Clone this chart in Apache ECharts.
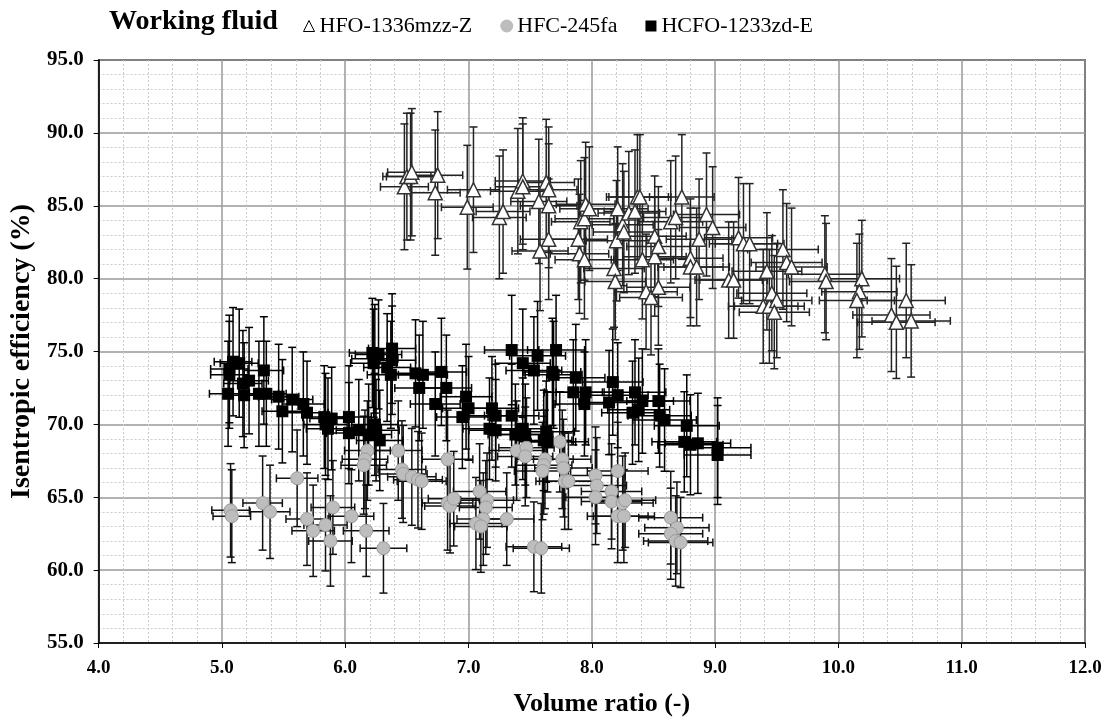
<!DOCTYPE html>
<html><head><meta charset="utf-8">
<script src="https://cdn.jsdelivr.net/npm/echarts@6/dist/echarts.min.js"></script>
<style>html,body{margin:0;padding:0;background:#fff}#c{width:1112px;height:722px}</style>
</head><body><div id="c"></div>
<script>
// ---- data ----
const seriesNames = ['HFO-1336mzz-Z', 'HFC-245fa', 'HCFO-1233zd-E'];
const xTicks = [4, 5, 6, 7, 8, 9, 10, 11, 12];
const yTicks = [55, 60, 65, 70, 75, 80, 85, 90, 95];
// relative measurement uncertainty used for the error bars
const xRelUnc = 0.03;
const yRelUnc = 0.05;

const hfoX = [6.48,6.50,6.53,6.54,6.73,6.75,6.99,7.04,7.25,7.28,7.40,7.44,7.44,7.57,7.58,7.63,7.65,7.65,7.65,7.89,7.90,7.91,7.94,7.95,7.94,7.98,8.18,8.19,8.20,8.21,8.25,8.26,8.30,8.35,8.37,8.39,8.41,8.44,8.48,8.51,8.51,8.54,8.54,8.64,8.68,8.73,8.80,8.80,8.85,8.87,8.93,8.98,9.11,9.15,9.19,9.23,9.28,9.42,9.39,9.44,9.46,9.50,9.48,9.55,9.58,9.62,9.89,9.90,10.19,10.17,10.15,10.43,10.47,10.55,10.59];
const hfoY = [86.3,87.0,87.0,87.3,85.9,87.1,84.9,86.1,84.2,84.6,86.0,86.7,86.3,85.3,81.9,86.6,85.0,86.1,82.7,82.7,81.7,83.9,84.1,85.1,81.3,84.8,80.7,79.8,82.6,84.8,83.7,83.2,84.5,84.6,85.6,85.6,81.3,79.1,78.7,82.9,81.5,82.2,79.4,83.9,84.2,85.6,81.4,80.8,80.8,82.7,84.4,83.5,79.9,79.9,82.8,82.4,82.4,80.5,78.1,78.1,79.0,78.5,77.7,82.0,81.1,80.8,80.3,79.8,80.0,79.1,78.5,77.5,77.0,78.5,77.1];

const hfcX = [5.07,5.08,5.33,5.39,5.61,5.69,5.74,5.84,5.88,5.90,6.05,6.17,6.31,6.18,6.16,6.15,6.43,6.46,6.47,6.54,6.59,6.62,6.83,6.83,6.85,6.88,7.09,7.15,7.14,7.12,7.06,7.10,7.31,7.39,7.47,7.46,7.62,7.61,7.60,7.74,7.76,7.77,7.78,7.81,7.53,7.59,8.03,8.04,8.03,8.21,8.16,8.16,8.25,8.27,8.21,8.26,8.64,8.69,8.64,8.68,8.72];
const hfcY = [64.1,63.7,64.6,64.0,66.3,63.5,62.7,63.1,62.0,64.3,63.7,62.7,61.5,68.2,67.6,67.2,68.2,66.9,66.6,66.4,66.2,66.1,67.6,64.6,64.4,64.9,65.4,64.8,64.3,63.5,63.2,63.0,63.5,68.2,68.4,67.8,67.6,67.2,66.8,68.8,67.6,67.0,66.1,66.1,61.6,61.5,66.5,65.8,65.0,66.8,65.4,64.7,64.6,64.8,63.7,63.7,63.6,62.9,62.5,62.0,61.9];

const hcfoX = [5.09,5.06,5.06,5.14,5.05,5.17,5.22,5.18,5.34,5.30,5.36,5.46,5.49,5.57,5.66,5.69,5.83,5.84,5.86,5.89,6.03,6.03,6.11,6.19,6.24,6.25,6.28,6.22,6.24,6.27,6.23,6.34,6.38,6.38,6.37,6.57,6.63,6.60,6.78,6.82,6.73,6.98,7.00,6.95,7.19,7.17,7.22,7.35,7.44,7.56,7.71,7.53,7.68,7.69,7.87,7.85,7.95,7.94,8.17,8.21,8.14,8.35,8.41,8.54,8.33,8.38,8.55,8.59,8.77,7.22,7.35,7.38,7.44,7.46,7.63,7.61,7.64,8.75,8.80,8.86,9.02,9.02];
const hcfoY = [74.3,73.8,73.4,74.2,72.1,72.8,73.0,72.0,73.7,72.1,72.1,71.9,70.9,71.7,71.4,70.8,70.5,70.0,69.7,70.4,70.5,69.4,69.6,69.3,70.0,69.6,68.9,74.9,74.5,74.8,74.2,73.9,75.2,74.4,73.4,73.5,73.4,72.5,73.6,72.5,71.4,71.9,71.1,70.5,71.1,69.7,69.6,75.1,74.2,74.7,75.1,73.7,73.6,73.4,73.2,72.2,72.2,71.4,72.9,72.0,71.5,72.2,71.6,71.6,70.8,71.0,70.6,70.3,69.9,70.6,70.6,69.3,69.7,69.3,69.5,68.9,68.8,68.8,68.6,68.7,68.4,67.9];

// ---- build ----
const pairs = (xs, ys) => xs.map((x, i) => [x, ys[i]]);
const FONT = 'Liberation Serif';

function errRender(color) {
  return function (params, api) {
    const x = api.value(0), y = api.value(1);
    const dx = x * xRelUnc, dy = y * yRelUnc;
    const l = api.coord([x - dx, y]), r = api.coord([x + dx, y]);
    const t = api.coord([x, y + dy]), b = api.coord([x, y - dy]);
    const cap = 4;
    const style = { stroke: color, lineWidth: 1.5, fill: null };
    const ln = (x1, y1, x2, y2) => ({ type: 'line', shape: { x1, y1, x2, y2 }, style });
    return { type: 'group', children: [
      ln(l[0], l[1], r[0], r[1]),
      ln(l[0], l[1] - cap, l[0], l[1] + cap),
      ln(r[0], r[1] - cap, r[0], r[1] + cap),
      ln(t[0], t[1], b[0], b[1]),
      ln(t[0] - cap, t[1], t[0] + cap, t[1]),
      ln(b[0] - cap, b[1], b[0] + cap, b[1])
    ]};
  };
}

const chart = echarts.init(document.getElementById('c'), null, { renderer: 'canvas' });
const fmt = v => v.toFixed(1);
chart.setOption({
  animation: false,
  backgroundColor: '#fff',
  title: { text: 'Working fluid', left: 104, top: 3, textStyle: { fontFamily: FONT, fontWeight: 'bold', fontSize: 28, color: '#000' } },
  legend: {
    left: 298, top: 10, itemGap: 28, itemWidth: 11, itemHeight: 11,
    data: seriesNames,
    textStyle: { fontFamily: FONT, fontSize: 22, color: '#000', padding: [0, 0, 0, 0] }
  },
  grid: { left: 98, right: 27, top: 60, bottom: 76, show: true, borderColor: '#000', borderWidth: 1.5 },
  xAxis: {
    type: 'value', min: xTicks[0], max: xTicks[xTicks.length - 1], interval: 1,
    name: 'Volume ratio (-)', nameLocation: 'middle', nameGap: 48,
    nameTextStyle: { fontFamily: FONT, fontWeight: 'bold', fontSize: 26, color: '#000', padding: [0, 0, 0, 20] },
    axisLine: { lineStyle: { color: '#000', width: 1.5 } },
    axisTick: { show: true, length: 5, lineStyle: { color: '#000' } },
    axisLabel: { margin: 16, color: '#000', fontFamily: FONT, fontWeight: 'bold', fontSize: 19, formatter: fmt },
    splitLine: { lineStyle: { color: '#999', width: 1.5 } },
    minorTick: { show: false, splitNumber: 5 },
    minorSplitLine: { show: true, lineStyle: { color: '#ccc', type: [2, 2], width: 1 } }
  },
  yAxis: {
    type: 'value', min: yTicks[0], max: yTicks[yTicks.length - 1], interval: 5,
    name: 'Isentropic efficiency (%)', nameLocation: 'middle', nameGap: 56, nameRotate: 90,
    nameTextStyle: { fontFamily: FONT, fontWeight: 'bold', fontSize: 28, color: '#000' },
    axisLine: { show: true, lineStyle: { color: '#000', width: 1.5 } },
    axisTick: { show: true, length: 5, lineStyle: { color: '#000' } },
    axisLabel: { margin: 15, color: '#000', fontFamily: FONT, fontWeight: 'bold', fontSize: 21, formatter: fmt },
    splitLine: { lineStyle: { color: '#999', width: 1.5 } },
    minorTick: { show: false, splitNumber: 5 },
    minorSplitLine: { show: true, lineStyle: { color: '#ccc', type: [2, 2], width: 1 } }
  },
  series: [
    { type: 'custom', name: 'errHFC', renderItem: errRender('#111'), data: pairs(hfcX, hfcY), z: 2, silent: true },
    { type: 'custom', name: 'errHCFO', renderItem: errRender('#000'), data: pairs(hcfoX, hcfoY), z: 2, silent: true },
    { type: 'custom', name: 'errHFO', renderItem: errRender('#222'), data: pairs(hfoX, hfoY), z: 2, silent: true },
    { type: 'scatter', name: seriesNames[1], data: pairs(hfcX, hfcY), symbol: 'circle', symbolSize: 13,
      itemStyle: { color: '#bdbdbd', borderColor: '#9a9a9a', borderWidth: 1, opacity: 1 }, z: 3 },
    { type: 'scatter', name: seriesNames[2], data: pairs(hcfoX, hcfoY), symbol: 'rect', symbolSize: 12,
      itemStyle: { color: '#000', borderColor: '#000', borderWidth: 0, opacity: 1 }, z: 4 },
    { type: 'scatter', name: seriesNames[0], data: pairs(hfoX, hfoY), symbol: 'triangle', symbolSize: 14,
      itemStyle: { color: '#fff', borderColor: '#333', borderWidth: 1.5, opacity: 1 }, z: 5 }
  ]
});
chart.setOption({ legend: { data: [
  { name: seriesNames[0], icon: 'triangle', itemStyle: { color: '#fff', borderColor: '#000', borderWidth: 1 } },
  { name: seriesNames[1], icon: 'circle', itemStyle: { color: '#bdbdbd', borderColor: '#bdbdbd' } },
  { name: seriesNames[2], icon: 'rect', itemStyle: { color: '#000' } }
] } });
</script></body></html>
